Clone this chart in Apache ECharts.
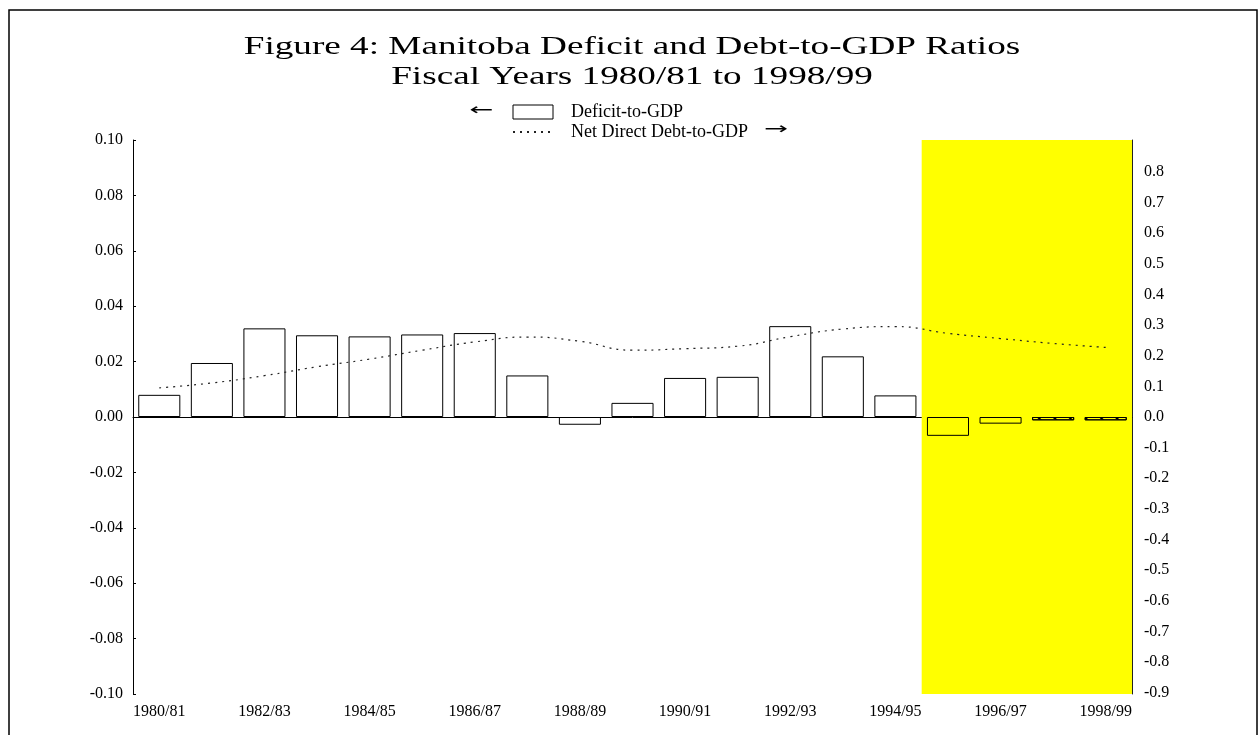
<!DOCTYPE html>
<html><head><meta charset="utf-8">
<script src="https://cdn.jsdelivr.net/npm/echarts@6/dist/echarts.min.js"></script>
<style>html,body{margin:0;padding:0;background:#fff}#c{width:1258px;height:735px}</style>
</head><body><div id="c"></div>
<script>
const categories = ['1980/81','1981/82','1982/83','1983/84','1984/85','1985/86','1986/87','1987/88','1988/89','1989/90',
  '1990/91','1991/92','1992/93','1993/94','1994/95','1995/96','1996/97','1997/98','1998/99'];
const deficitToGDP = [0.0080,0.0195,0.0320,0.0295,0.0291,0.0298,0.0303,0.0150,-0.0028,0.0051,
  0.0141,0.0145,0.0328,0.0219,0.0078,-0.0068,-0.0024,-0.0012,-0.0012];
const debtToGDP = [0.095,0.111,0.135,0.164,0.189,0.218,0.245,0.261,0.247,0.218,
  0.223,0.231,0.262,0.287,0.295,0.273,0.256,0.240,0.227];
const leftTicks = [-0.10,-0.08,-0.06,-0.04,-0.02,0.00,0.02,0.04,0.06,0.08,0.10];
const rightTicks = [-0.9,-0.8,-0.7,-0.6,-0.5,-0.4,-0.3,-0.2,-0.1,0.0,0.1,0.2,0.3,0.4,0.5,0.6,0.7,0.8];
const hatchedFrom = '1997/98';
const shadedFrom = '1995/96';

const SERIF = '"Liberation Serif", "Times New Roman", serif';
const chart = echarts.init(document.getElementById('c'), null, {renderer: 'canvas'});
const hatchIdx = categories.indexOf(hatchedFrom);
const shadeIdx = categories.indexOf(shadedFrom);

const barData = deficitToGDP.map((v, i) => i >= hatchIdx ? {
  value: v,
  itemStyle: {decal: {symbol: 'rect', symbolSize: 1, dashArrayX: [[1, 0]], dashArrayY: [1.5, 9], rotation: Math.PI / 4, color: '#000', backgroundColor: 'rgba(0,0,0,0)'}}
} : v);

const option = {
  backgroundColor: '#fff',
  animation: false,
  textStyle: {fontFamily: SERIF, color: '#000'},
  grid: {left: 133, right: 126, top: 140, bottom: 41},
  legend: {
    data: [
      {name: 'Deficit-to-GDP', icon: 'rect', itemStyle: {color: '#fff', borderColor: '#000', borderWidth: 1}},
      {name: 'Net Direct Debt-to-GDP', itemStyle: {color: 'rgba(0,0,0,0)', borderColor: 'rgba(0,0,0,0)', borderWidth: 0}}
    ],
    orient: 'vertical', left: 512, top: 103, padding: 0, itemWidth: 40, itemHeight: 14, itemGap: 2,
    textStyle: {fontFamily: SERIF, fontSize: 18, lineHeight: 17, color: '#000', padding: [0, 0, 0, 13]},
    selectedMode: false
  },
  graphic: [
    {type: 'rect', shape: {x: 9, y: 10, width: 1248, height: 740}, style: {fill: 'none', stroke: '#000', lineWidth: 1.5}, silent: true},
    {type: 'text', x: 632, y: 32, scaleX: 1.43, style: {text: 'Figure 4: Manitoba Deficit and Debt-to-GDP Ratios\nFiscal Years 1980/81 to 1998/99',
      font: '26px ' + SERIF, fill: '#000', align: 'center', verticalAlign: 'top', lineHeight: 30}},
    {type: 'text', x: 481, y: 111, scaleX: 1.8, style: {text: '←', font: '16px "DejaVu Sans"', fill: '#000', align: 'center', verticalAlign: 'middle'}},
    {type: 'text', x: 776, y: 130, scaleX: 1.8, style: {text: '→', font: '16px "DejaVu Sans"', fill: '#000', align: 'center', verticalAlign: 'middle'}}
  ],
  xAxis: [{
    type: 'category', data: categories, boundaryGap: true,
    axisLine: {lineStyle: {color: '#000', width: 1}},
    axisTick: {inside: true, length: 4, interval: 0, alignWithLabel: false, lineStyle: {color: '#000'}},
    axisLabel: {interval: 1, fontFamily: SERIF, fontSize: 16, color: '#000', margin: 10},
    splitLine: {show: false}
  }, {
    type: 'value', min: 0, max: categories.length, show: false
  }],
  yAxis: [{
    type: 'value', min: -0.1, max: 0.1, position: 'left',
    axisLine: {show: true, lineStyle: {color: '#000'}},
    axisTick: {show: true, inside: true, length: 3, customValues: leftTicks, lineStyle: {color: '#000'}},
    axisLabel: {customValues: leftTicks, formatter: v => v.toFixed(2), fontFamily: SERIF, fontSize: 16, color: '#000', margin: 10},
    splitLine: {show: false}
  }, {
    type: 'value', min: -0.904, max: 0.904, position: 'right',
    axisLine: {show: true, lineStyle: {color: '#222'}},
    axisTick: {show: true, inside: true, length: 3, customValues: rightTicks, lineStyle: {color: '#000'}},
    axisLabel: {customValues: rightTicks, formatter: v => v.toFixed(1), fontFamily: SERIF, fontSize: 16, color: '#000', margin: 12},
    splitLine: {show: false}
  }],
  series: [{
    name: 'shade', type: 'scatter', xAxisIndex: 1, yAxisIndex: 0, data: [], z: 0, silent: true,
    markArea: {silent: true, itemStyle: {color: '#ffff00'}, data: [[{xAxis: shadeIdx}, {xAxis: categories.length}]]}
  }, {
    name: 'Deficit-to-GDP', type: 'bar', data: barData, barCategoryGap: '20%', z: 2,
    itemStyle: {color: 'rgba(255,255,255,0)', borderColor: '#000', borderWidth: 1}
  }, {
    name: 'Net Direct Debt-to-GDP', type: 'line', yAxisIndex: 1, data: debtToGDP, smooth: true,
    symbol: 'none', showSymbol: false, z: 3,
    lineStyle: {color: '#222', width: 1.2, type: [2, 5]}
  }]
};
chart.setOption(option);
</script>
</body></html>
